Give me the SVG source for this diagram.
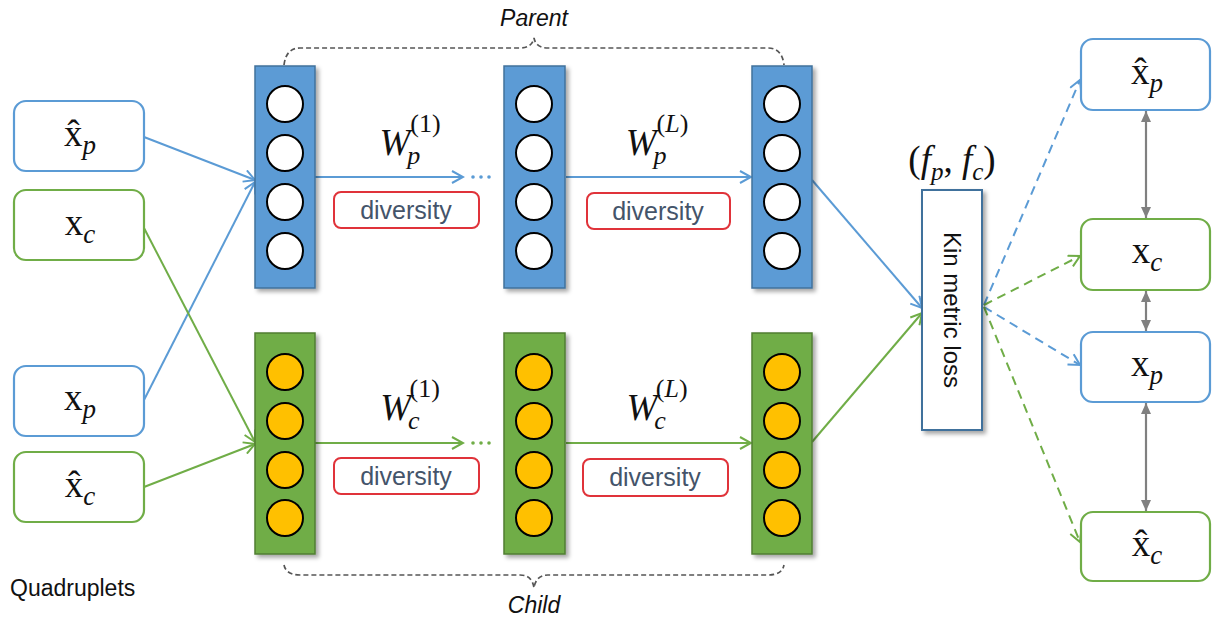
<svg xmlns="http://www.w3.org/2000/svg" width="1213" height="619" viewBox="0 0 1213 619">
<defs>
<style>
.bbox{fill:#fff;stroke:#5b9bd5;stroke-width:2.2}
.gbox{fill:#fff;stroke:#70ad47;stroke-width:2.2}
.bcol{fill:#5b9bd5;stroke:#41719c;stroke-width:1.5}
.gcol{fill:#70ad47;stroke:#507e32;stroke-width:1.5}
.wc{fill:#fff;stroke:#000;stroke-width:2}
.yc{fill:#ffc000;stroke:#000;stroke-width:2}
.div{fill:#fff;stroke:#e0333a;stroke-width:2}
.divt{font-family:"Liberation Sans",Arial,sans-serif;font-size:25px;fill:#44546a;text-anchor:middle}
.math{font-family:"Liberation Serif","DejaVu Serif",serif;font-size:37px;fill:#111;text-anchor:middle}
.it{font-style:italic}
.lbl{font-family:"Liberation Sans",Arial,sans-serif;font-size:23px;fill:#111}
.bl{stroke:#5b9bd5;stroke-width:2;fill:none}
.gl{stroke:#70ad47;stroke-width:2;fill:none}
.bd{stroke:#5b9bd5;stroke-width:2;fill:none;stroke-dasharray:9 6}
.gd{stroke:#70ad47;stroke-width:2;fill:none;stroke-dasharray:9 6}
.gray{stroke:#808080;stroke-width:2.2;fill:none}
.brace{stroke:#555;stroke-width:1.7;fill:none;stroke-dasharray:5 3}
</style>
<filter id="sh" x="-20%" y="-10%" width="140%" height="120%">
<feDropShadow dx="3" dy="3" stdDeviation="2" flood-color="#000" flood-opacity="0.35"/>
</filter>
<marker id="ab" markerWidth="14" markerHeight="14" refX="12" refY="7" orient="auto" markerUnits="userSpaceOnUse">
<path d="M1,1 L12,7 L1,13" fill="none" stroke="#5b9bd5" stroke-width="2"/>
</marker>
<marker id="ag" markerWidth="14" markerHeight="14" refX="12" refY="7" orient="auto" markerUnits="userSpaceOnUse">
<path d="M1,1 L12,7 L1,13" fill="none" stroke="#70ad47" stroke-width="2"/>
</marker>
<marker id="ay" markerWidth="12" markerHeight="12" refX="11" refY="6" orient="auto" markerUnits="userSpaceOnUse">
<path d="M0,1 L11,6 L0,11 Z" fill="#808080"/>
</marker>
<marker id="ays" markerWidth="12" markerHeight="12" refX="11" refY="6" orient="auto-start-reverse" markerUnits="userSpaceOnUse">
<path d="M0,1 L11,6 L0,11 Z" fill="#808080"/>
</marker>
</defs>
<rect width="1213" height="619" fill="#fff"/>

<!-- braces and labels -->
<path class="brace" d="M284,65 Q286,48 300,48 L520,48 Q532,48 534,38 Q536,48 548,48 L768,48 Q782,48 784,65"/>
<text class="lbl it" x="534" y="26" text-anchor="middle">Parent</text>
<path class="brace" d="M284,565 Q286,575 300,575 L520,575 Q532,575 534,588 Q536,575 548,575 L768,575 Q782,575 784,565"/>
<text class="lbl it" x="534" y="613" text-anchor="middle">Child</text>
<text class="lbl" x="10" y="596" font-size="26">Quadruplets</text>

<!-- connectors -->
<g id="connectors">
<line class="bl" x1="144" y1="137" x2="255" y2="180" marker-end="url(#ab)"/>
<line class="bl" x1="144" y1="400" x2="255" y2="182" marker-end="url(#ab)"/>
<line class="gl" x1="144" y1="228" x2="255" y2="442" marker-end="url(#ag)"/>
<line class="gl" x1="144" y1="487" x2="255" y2="444" marker-end="url(#ag)"/>
<line class="bl" x1="315" y1="177" x2="463" y2="177" marker-end="url(#ab)"/>
<line class="bl" x1="566" y1="177" x2="751" y2="177" marker-end="url(#ab)"/>
<line class="gl" x1="315" y1="443" x2="463" y2="443" marker-end="url(#ag)"/>
<line class="gl" x1="566" y1="443" x2="751" y2="443" marker-end="url(#ag)"/>
<g fill="#5b9bd5"><circle cx="473" cy="177" r="1.8"/><circle cx="481" cy="177" r="1.8"/><circle cx="489" cy="177" r="1.8"/></g>
<g fill="#70ad47"><circle cx="473" cy="443" r="1.8"/><circle cx="481" cy="443" r="1.8"/><circle cx="489" cy="443" r="1.8"/></g>
<line class="bl" x1="812" y1="180" x2="922" y2="308" marker-end="url(#ab)"/>
<line class="gl" x1="812" y1="442" x2="922" y2="313" marker-end="url(#ag)"/>
<line class="bd" x1="984" y1="305" x2="1080" y2="80" marker-end="url(#ab)"/>
<line class="gd" x1="984" y1="305" x2="1080" y2="256" marker-end="url(#ag)"/>
<line class="bd" x1="984" y1="307" x2="1080" y2="365" marker-end="url(#ab)"/>
<line class="gd" x1="984" y1="307" x2="1080" y2="542" marker-end="url(#ag)"/>
<line class="gray" x1="1146" y1="111" x2="1146" y2="218" marker-start="url(#ays)" marker-end="url(#ay)"/>
<line class="gray" x1="1146" y1="291" x2="1146" y2="331" marker-start="url(#ays)" marker-end="url(#ay)"/>
<line class="gray" x1="1146" y1="403" x2="1146" y2="511" marker-start="url(#ays)" marker-end="url(#ay)"/>
</g>

<!-- left input boxes -->
<g id="in-xhat-p"><rect class="bbox" x="14" y="101" width="130" height="70" rx="12"/>
<text class="math" x="80" y="146">x&#770;<tspan class="it" font-size="27" dy="8">p</tspan></text></g>
<g id="in-x-c"><rect class="gbox" x="14" y="190" width="130" height="70" rx="12"/>
<text class="math" x="80" y="235">x<tspan class="it" font-size="27" dy="8">c</tspan></text></g>
<g id="in-x-p"><rect class="bbox" x="14" y="366" width="130" height="70" rx="12"/>
<text class="math" x="80" y="410">x<tspan class="it" font-size="27" dy="8">p</tspan></text></g>
<g id="in-xhat-c"><rect class="gbox" x="14" y="452" width="130" height="70" rx="12"/>
<text class="math" x="80" y="497">x&#770;<tspan class="it" font-size="27" dy="8">c</tspan></text></g>

<!-- parent columns -->
<g id="p-col1" filter="url(#sh)"><rect class="bcol" x="255" y="66" width="60" height="222"/>
<circle class="wc" cx="285" cy="104" r="18"/><circle class="wc" cx="285" cy="153" r="18"/><circle class="wc" cx="285" cy="202" r="18"/><circle class="wc" cx="285" cy="251" r="18"/></g>
<g id="p-col2" filter="url(#sh)"><rect class="bcol" x="504" y="66" width="61" height="222"/>
<circle class="wc" cx="534" cy="104" r="18"/><circle class="wc" cx="534" cy="153" r="18"/><circle class="wc" cx="534" cy="202" r="18"/><circle class="wc" cx="534" cy="251" r="18"/></g>
<g id="p-col3" filter="url(#sh)"><rect class="bcol" x="752" y="66" width="60" height="222"/>
<circle class="wc" cx="782" cy="104" r="18"/><circle class="wc" cx="782" cy="153" r="18"/><circle class="wc" cx="782" cy="202" r="18"/><circle class="wc" cx="782" cy="251" r="18"/></g>

<!-- child columns -->
<g id="c-col1" filter="url(#sh)"><rect class="gcol" x="255" y="333" width="60" height="221"/>
<circle class="yc" cx="285" cy="372" r="18"/><circle class="yc" cx="285" cy="421" r="18"/><circle class="yc" cx="285" cy="470" r="18"/><circle class="yc" cx="285" cy="518" r="18"/></g>
<g id="c-col2" filter="url(#sh)"><rect class="gcol" x="504" y="333" width="61" height="221"/>
<circle class="yc" cx="534" cy="372" r="18"/><circle class="yc" cx="534" cy="421" r="18"/><circle class="yc" cx="534" cy="470" r="18"/><circle class="yc" cx="534" cy="518" r="18"/></g>
<g id="c-col3" filter="url(#sh)"><rect class="gcol" x="752" y="333" width="60" height="221"/>
<circle class="yc" cx="782" cy="372" r="18"/><circle class="yc" cx="782" cy="421" r="18"/><circle class="yc" cx="782" cy="470" r="18"/><circle class="yc" cx="782" cy="518" r="18"/></g>

<!-- weight labels -->
<g id="w-p1"><text class="math" x="410" y="155"><tspan class="it">W</tspan><tspan class="it" font-size="26" dx="-3" dy="9">p</tspan><tspan font-size="26" dx="-10" dy="-32">(1)</tspan></text></g>
<g id="w-pL"><text class="math" x="657" y="155"><tspan class="it">W</tspan><tspan class="it" font-size="26" dx="-3" dy="9">p</tspan><tspan font-size="26" dx="-10" dy="-32">(<tspan class="it">L</tspan>)</tspan></text></g>
<g id="w-c1"><text class="math" x="410" y="420"><tspan class="it">W</tspan><tspan class="it" font-size="26" dx="-3" dy="9">c</tspan><tspan font-size="26" dx="-10" dy="-32">(1)</tspan></text></g>
<g id="w-cL"><text class="math" x="657" y="420"><tspan class="it">W</tspan><tspan class="it" font-size="26" dx="-3" dy="9">c</tspan><tspan font-size="26" dx="-10" dy="-32">(<tspan class="it">L</tspan>)</tspan></text></g>

<!-- diversity boxes -->
<g id="div-p1"><rect class="div" x="334" y="192" width="145" height="36" rx="7"/><text class="divt" x="406" y="219">diversity</text></g>
<g id="div-pL"><rect class="div" x="587" y="193" width="143" height="36" rx="7"/><text class="divt" x="658" y="220">diversity</text></g>
<g id="div-c1"><rect class="div" x="334" y="458" width="145" height="36" rx="7"/><text class="divt" x="406" y="485">diversity</text></g>
<g id="div-cL"><rect class="div" x="583" y="459" width="145" height="37" rx="7"/><text class="divt" x="655" y="486">diversity</text></g>

<!-- loss -->
<g id="fpfc"><text class="math" x="952" y="172" font-size="35">(<tspan class="it">f</tspan><tspan class="it" font-size="25" dy="8">p</tspan><tspan dy="-8">, </tspan><tspan class="it">f</tspan><tspan class="it" font-size="25" dy="8">c</tspan><tspan dy="-8">)</tspan></text></g>
<g id="kin-loss"><rect x="922" y="190" width="60" height="240" fill="#fff" stroke="#41719c" stroke-width="2" filter="url(#sh)"/>
<text transform="translate(952,310) rotate(90)" font-family="'Liberation Sans',Arial,sans-serif" font-size="24" fill="#111" text-anchor="middle" dy="8">Kin metric loss</text></g>

<!-- right boxes -->
<g id="out-xhat-p"><rect class="bbox" x="1081" y="39" width="129" height="71" rx="12"/>
<text class="math" x="1147" y="84">x&#770;<tspan class="it" font-size="27" dy="8">p</tspan></text></g>
<g id="out-x-c"><rect class="gbox" x="1081" y="219" width="129" height="71" rx="12"/>
<text class="math" x="1147" y="263">x<tspan class="it" font-size="27" dy="8">c</tspan></text></g>
<g id="out-x-p"><rect class="bbox" x="1081" y="332" width="129" height="70" rx="12"/>
<text class="math" x="1147" y="376">x<tspan class="it" font-size="27" dy="8">p</tspan></text></g>
<g id="out-xhat-c"><rect class="gbox" x="1081" y="512" width="129" height="69" rx="12"/>
<text class="math" x="1147" y="556">x&#770;<tspan class="it" font-size="27" dy="8">c</tspan></text></g>
</svg>
